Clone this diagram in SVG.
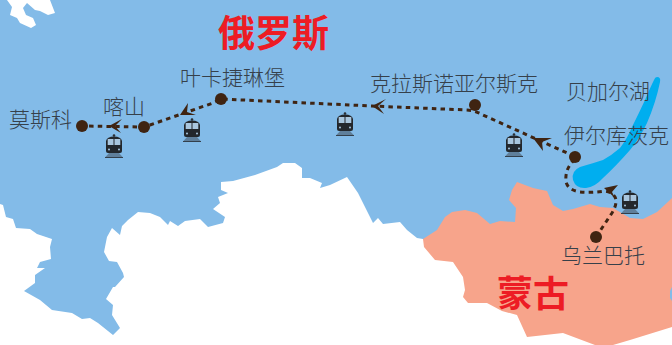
<svg xmlns="http://www.w3.org/2000/svg" width="672" height="345" viewBox="0 0 672 345">
<style>
.lb{font-family:"Noto Sans CJK SC",sans-serif;font-size:21px;fill:#36404a;font-weight:300}
.ct{font-family:"Noto Sans CJK SC",sans-serif;font-weight:700;fill:#ed1c24}
.st{fill:#3f2412}
.ar{fill:#3f2412}
#route{fill:none;stroke:#3f2412;stroke-width:3;stroke-dasharray:4.500 4.200}
</style>
<defs>
<g id="train">
<circle cx="0" cy="-10.500" r="1.300" fill="#2a2e33"/>
<path d="M-8-5Q-7-9.500 0-9.500T8-5V5Q8 7 6 7H-6Q-8 7-8 5Z" fill="#23272c"/>
<rect x="-6.300" y="-7" width="5.800" height="6" fill="#a9c6de"/>
<rect x=".5" y="-7" width="5.800" height="6" fill="#a9c6de"/>
<circle cx="-5" cy="3.500" r="1" fill="#a9c6de"/>
<circle cx="5" cy="3.500" r="1" fill="#a9c6de"/>
<path d="M-5 7H5L9 11.500H-9Z" fill="#5f7f9b"/>
<path d="M-9 11.500H9" stroke="#23272c" stroke-width=".8"/>
</g>
</defs>
<rect id="sea" width="672" height="345" fill="#83bbe8"/>
<g id="land">
<path fill="#fff" d="M0 204L3 205L6 217L13 219L16 228L30 229L37 234L52 239L50 247L51 259L40 262L37 268L45 268L35 275L35 283L24 291L40 300L52 310L72 313L82 319L90 318L98 323L113 335L120 328L112 315L113 305L106 299L113 287L115 287L124 277L123 273L117 262L109 261L104 252L107 237L112 228L120 235L122 226L128 220L138 212L150 213L160 217L168 225L170 221L178 226L185 221L200 219L208 227L223 223L225 217L213 209L220 203L218 197L228 193L221 190L221 182L233 181L255 175L277 167L283 163L295 163L302 168L302 178L310 178L322 183L320 188L330 185L347 177L358 193L373 223L378 218L383 224L400 222L407 230L417 238L423 239L672 320V345H0Z"/>
<path fill="#fff" d="M7 0L12 7L10 15L17 18L20 23L31 28L36 25L33 18L26 15L23 8L27 3L35 10L40 11L48 15L55 13L50 0Z"/>
</g>
<path id="mongolia" fill="#f7a48b" d="M423 239L437 230L445 217L452 212L465 210L477 213L490 224L500 221L515 222L516 208L509 200L512 190L517 182L533 188L547 191L553 205L563 211L573 209L590 204L600 207L613 208L630 218L643 219L657 212L670 200L672 198V287L670 291V298L672 301V327L630 340L613 345H595L563 333L527 337L517 315L502 311L487 303L468 303L463 297L465 290L463 277L453 262L435 260L424 247Z"/>
<path id="lake" fill="#00aeef" d="M657 77Q661 77 660 82Q656 102 647 123Q640 138 630 150Q616 166 603 178Q595 187 586 188Q576 189 573 180Q571 171 580 167Q594 163 603 160Q612 155 620 148Q627 139 632 127Q639 113 645 100Q650 88 654 80Q655 77 657 77Z"/>
<path id="route" d="M596 237L612 213Q618 203 615 197Q612 192 605 191Q592 193 580 192Q568 190 566 182Q565 172 570 165L576 157L483 115Q476 111 467 110L372 106L221 99L213 103L150 125L144 127L82 126"/>
<g id="arrows">
<path class="ar" d="M604 188L618 185L612 192L615 198Z"/>
<path class="ar" d="M533 138L552 138L542 142L543 151Z"/>
<path class="ar" d="M372 106L386 99L378 106L384 114Z"/>
<path class="ar" d="M180 115L188 103L187 112L196 115Z"/>
<path class="ar" d="M109 126L122 119L115 126L121 133Z"/>
</g>
<g id="trains">
<use href="#train" x="114" y="146"/>
<use href="#train" x="192" y="130"/>
<use href="#train" x="345" y="124"/>
<use href="#train" x="514" y="145"/>
<use href="#train" x="630" y="202"/>
</g>
<g id="moscow"><circle class="st" cx="82" cy="126" r="6"/><text class="lb" x="9" y="127">莫斯科</text></g>
<g id="kazan"><circle class="st" cx="144" cy="127" r="6"/><text class="lb" x="103" y="114">喀山</text></g>
<g id="yekaterinburg"><circle class="st" cx="221" cy="99" r="6"/><text class="lb" x="180" y="85">叶卡捷琳堡</text></g>
<g id="krasnoyarsk"><circle class="st" cx="475" cy="105" r="6"/><text class="lb" x="370" y="91">克拉斯诺亚尔斯克</text></g>
<g id="irkutsk"><circle class="st" cx="575" cy="157" r="6"/><text class="lb" x="564" y="143">伊尔库茨克</text></g>
<g id="ulaanbaatar"><circle class="st" cx="596" cy="237" r="6"/><text class="lb" x="561" y="263">乌兰巴托</text></g>
<text class="lb" x="566" y="99">贝加尔湖</text>
<text class="ct" font-size="37" x="218" y="47">俄罗斯</text>
<text class="ct" font-size="36" x="497" y="307">蒙古</text>
</svg>
